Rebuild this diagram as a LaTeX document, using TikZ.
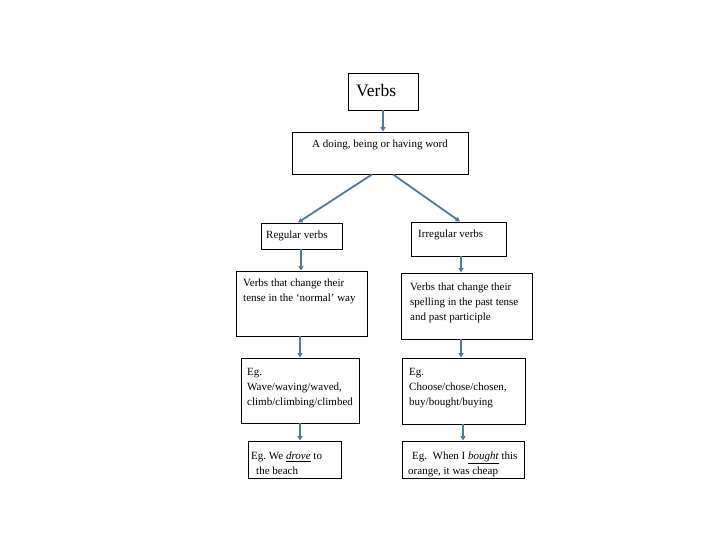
\documentclass[tikz,border=0pt]{standalone}
\usepackage{fontspec}
\setmainfont{Liberation Serif}
\usetikzlibrary{arrows.meta}
\definecolor{arrowblue}{RGB}{76,122,166}
\frenchspacing
\tikzset{
  box/.style={draw=black, line width=0.9pt, rectangle, inner sep=0pt, fill=white},
  txt/.style={inner sep=0pt, align=left, font=\fontsize{11}{14.8}\selectfont},
  conn/.style={draw=arrowblue, line width=1.8pt, -{Triangle[length=4.5pt,width=5pt]}, shorten >=0pt}
}
\begin{document}
\begin{tikzpicture}[x=1pt,y=-1pt]
\useasboundingbox (0,0) rectangle (720,540);
% boxes
\node[box, minimum width=70pt, minimum height=37pt]  (verbs) at (383,91.5) {};
\node[box, minimum width=176pt, minimum height=42pt] (doing) at (380,153) {};
\node[box, minimum width=81pt, minimum height=26pt]  (reg)   at (301.5,236) {};
\node[box, minimum width=95pt, minimum height=34pt]  (irr)   at (458.5,239) {};
\node[box, minimum width=131pt, minimum height=65pt] (ldesc) at (301.5,303.5) {};
\node[box, minimum width=131pt, minimum height=66pt] (rdesc) at (466.5,306) {};
\node[box, minimum width=118pt, minimum height=65pt] (leg)   at (300,390.5) {};
\node[box, minimum width=123pt, minimum height=66pt] (reg2)  at (463.5,391) {};
\node[box, minimum width=93pt, minimum height=37pt]  (lex)   at (294.5,459.5) {};
\node[box, minimum width=122pt, minimum height=37pt] (rex)   at (463,459.5) {};
% texts
\node[txt, anchor=base west, font=\fontsize{17.5}{20}\selectfont] (tverbs) at (356,97) {Verbs};
\node[txt, anchor=base west] (tdoing) at (312,148) {A doing, being or having word};
\node[txt, anchor=base west] (treg) at (266,239) {Regular verbs};
\node[txt, anchor=base west] (tirr) at (418,237.5) {Irregular verbs};
\node[txt, anchor=north west] (tldesc) at (243,279) {Verbs that change their\\tense in the ‘normal’ way};
\node[txt, anchor=north west] (trdesc) at (410,283) {Verbs that change their\\spelling in the past tense\\and past participle};
\node[txt, anchor=north west] (tleg) at (247,368) {Eg.\\Wave/waving/waved,\\climb/climbing/climbed};
\node[txt, anchor=north west] (treg2) at (409,368) {Eg.\\Choose/chose/chosen,\\buy/bought/buying};
\node[txt, anchor=north west] (tlex) at (251,452) {Eg. We \underline{\textit{drove}} to\\\hspace*{5pt}the beach};
\node[txt, anchor=north west] (trex) at (408,452) {\hspace*{4pt}Eg.\ \ When I \underline{\textit{bought}} this\\orange, it was cheap};
% connectors
\draw[conn] (verbs.south) -- (verbs.south |- doing.north);
\draw[conn] ([xshift=-8pt]doing.south) -- ([xshift=-3.5pt]reg.north);
\draw[conn] ([xshift=13pt]doing.south) -- ([xshift=1.5pt]irr.north);
\draw[conn] ([xshift=-0.5pt]reg.south) -- ([xshift=-0.5pt]reg.south |- ldesc.north);
\draw[conn] ([xshift=2.5pt]irr.south) -- ([xshift=2.5pt]irr.south |- rdesc.north);
\draw[conn] ([xshift=-1.5pt]ldesc.south) -- ([xshift=-1.5pt]ldesc.south |- leg.north);
\draw[conn] ([xshift=-5.5pt]rdesc.south) -- ([xshift=-5.5pt]rdesc.south |- reg2.north);
\draw[conn] (leg.south) -- (leg.south |- lex.north);
\draw[conn] ([xshift=-0.5pt]reg2.south) -- ([xshift=-0.5pt]reg2.south |- rex.north);
\end{tikzpicture}
\end{document}
